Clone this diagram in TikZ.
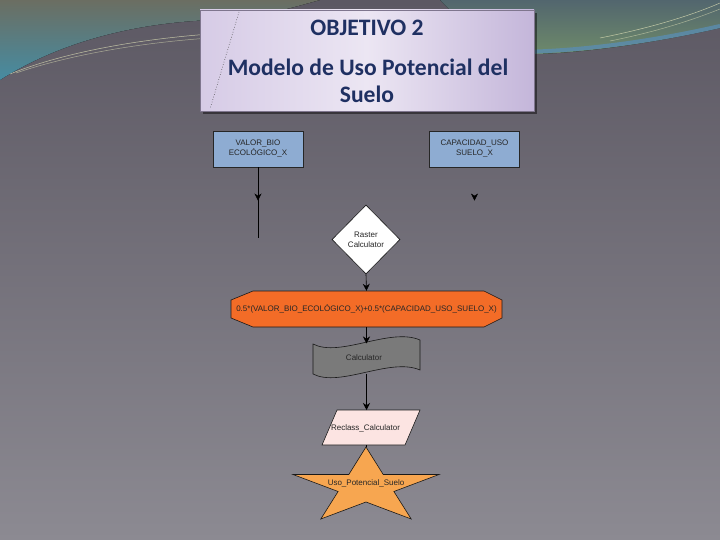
\documentclass[tikz,border=0pt]{standalone}
\usepackage{fontspec}
\setmainfont{Liberation Sans}
\newfontfamily\titlefont{Carlito}
\usetikzlibrary{shapes.geometric,arrows.meta,decorations.markings}
\definecolor{bgtop}{HTML}{5C5863}
\definecolor{bgbot}{HTML}{8C8A92}
\definecolor{swgreen}{HTML}{6B6E62}
\definecolor{swteal}{HTML}{468CA2}
\definecolor{swright}{HTML}{52666E}
\definecolor{swrgreen}{HTML}{6E8A6A}
\definecolor{swrblue}{HTML}{5A8CB0}
\definecolor{lightline}{HTML}{DADCB4}
\definecolor{boxblue}{HTML}{8EACD2}
\definecolor{octo}{HTML}{F36C27}
\definecolor{wavegray}{HTML}{7A7A7A}
\definecolor{pinkfill}{HTML}{FCE4E2}
\definecolor{starfill}{HTML}{F7A650}
\definecolor{navy}{HTML}{1F3062}
\definecolor{lavL}{HTML}{D6CBE6}
\definecolor{lavM}{HTML}{ECE6F3}
\definecolor{lavR}{HTML}{C4B6DA}
\begin{document}
\begin{tikzpicture}[x=1pt,y=-1pt,
  every node/.style={font=\fontsize{8}{10}\selectfont, text=black!85},
  inbox/.style={draw=black!85, fill=boxblue, minimum width=90pt, minimum height=36pt, align=center, inner sep=1pt, line width=0.6pt},
  conn/.style={draw=black, line width=0.6pt},
  tipend/.style={-{Stealth[length=7pt,width=7pt]}},
  shapeline/.style={draw=black!90, line width=0.6pt},
  titletext/.style={font=\titlefont\bfseries\fontsize{23.6}{27}\selectfont, text=navy, anchor=base},
  midarrow/.style={postaction={decorate}, decoration={markings, mark=at position 0.47 with {\arrow[black]{Stealth[length=7pt,width=7pt]}}}}
]
\useasboundingbox (0,0) rectangle (720,540);
% background
\fill[top color=bgtop, bottom color=bgbot] (0,0) rectangle (720,540);
\fill[top color=swgreen, bottom color=swteal] (0,0) -- (320,0) .. controls (290,8) and (260,18) .. (210,20) .. controls (120,24) and (50,48) .. (0,80) -- cycle;
\draw[lightline, line width=.5pt, opacity=.8] (10,74) .. controls (60,54) and (130,40) .. (210,34);
\draw[lightline, line width=.5pt, opacity=.6] (16,73) .. controls (66,56) and (136,43) .. (210,38);
\fill[top color=swright, bottom color=swrgreen] (440,0) -- (720,0) -- (720,28) .. controls (650,44) and (580,53) .. (535,54) .. controls (490,54) and (460,20) .. (440,0) -- cycle;
\draw[swrblue, line width=4pt, opacity=.8] (720,26) .. controls (650,42) and (580,51) .. (520,52);
\draw[lightline, line width=.5pt, opacity=.8] (720,3) .. controls (690,16) and (650,28) .. (600,38);
\draw[lightline, line width=.5pt, opacity=.6] (720,9) .. controls (690,21) and (655,32) .. (610,41);
% title box
\fill[black, opacity=.45] (203,13) rectangle (537,114);
\fill[left color=lavL, right color=lavR, middle color=lavM] (200,10) rectangle (534,111);
\draw[draw=black!35!lavR, line width=0.8pt] (200,10) rectangle (534,111);
\draw[black!70, dotted, line width=.6pt] (239,12) -- (210,109);
\node[titletext] (t1) at (367,36) {OBJETIVO 2};
\node[titletext] (t2) at (368,76) {Modelo de Uso Potencial del};
\node[titletext] (t3) at (367,103) {Suelo};
% input boxes
\node[inbox] (valor) at (258,149) {VALOR\_BIO\\ECOLÓGICO\_X};
\node[inbox] (cap) at (474.5,149) {CAPACIDAD\_USO\\SUELO\_X};
\coordinate (vend) at (258,238);
\coordinate (cend) at (474.5,238);
\draw[conn, midarrow] (valor.south) -- (vend);
\path[midarrow] (cap.south) -- (cend);
% diamond
\node[diamond, shapeline, fill=white, minimum width=68pt, minimum height=69pt, inner sep=0pt, align=center] (rc) at (366,239.5) {Raster\\Calculator};
% octagon
\fill[octo] (253,291) -- (484,291) -- (502,300) -- (502,318) -- (484,327) -- (253,327) -- (231,318) -- (231,300) -- cycle;
\draw[shapeline] (253,291) -- (484,291) -- (502,300) -- (502,318) -- (484,327) -- (253,327) -- (231,318) -- (231,300) -- cycle;
\node[minimum width=271pt, minimum height=36pt, inner sep=0pt] (expr) at (366.5,309) {0.5*(VALOR\_BIO\_ECOLÓGICO\_X)+0.5*(CAPACIDAD\_USO\_SUELO\_X)};
% wave
\draw[shapeline, fill=wavegray] (313,344) .. controls (340,358) and (390,327) .. (420,340) -- (420,370) .. controls (390,357) and (340,388) .. (313,374) -- cycle;
\node (calc) at (364,358) {Calculator};
\coordinate (calctop) at (366.5,343.5);
\coordinate (calcbot) at (366.5,373.5);
% parallelogram
\draw[shapeline, fill=pinkfill] (337,410) -- (420,410) -- (405,445) -- (322,445) -- cycle;
\node (recl) at (365.5,428) {Reclass\_Calculator};
\coordinate (recltop) at (366.5,410);
\coordinate (reclbot) at (366,445);
% star
\draw[shapeline, fill=starfill] (366,447) -- (383.2,474.5) -- (439,474.5) -- (393.9,491.5) -- (411.2,519) -- (366,502) -- (320.8,519) -- (338.1,491.5) -- (293,474.5) -- (348.8,474.5) -- cycle;
\node (goal) at (366,483) {Uso\_Potencial\_Suelo};
\coordinate (startop) at (366,447);
% connectors
\draw[conn, tipend] (rc.south) -- (expr.north);
\draw[conn, tipend] (expr.south) -- (calctop);
\draw[conn, tipend] (calcbot) -- (recltop);
\draw[conn] (reclbot) -- (startop);
\end{tikzpicture}
\end{document}
